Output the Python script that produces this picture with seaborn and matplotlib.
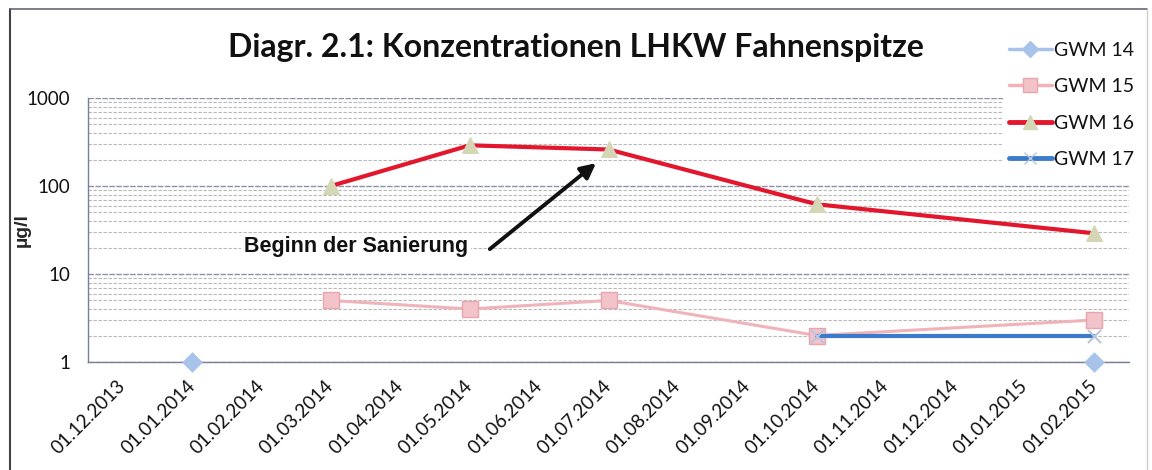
import numpy as np
import pandas as pd
import matplotlib
matplotlib.use("Agg")
import matplotlib.pyplot as plt
from matplotlib.lines import Line2D
from matplotlib.ticker import LogLocator, FixedLocator, NullFormatter, FixedFormatter
import seaborn as sns

# ---------------- data ----------------
months = ["01.12.2013", "01.01.2014", "01.02.2014", "01.03.2014", "01.04.2014",
          "01.05.2014", "01.06.2014", "01.07.2014", "01.08.2014", "01.09.2014",
          "01.10.2014", "01.11.2014", "01.12.2014", "01.01.2015", "01.02.2015"]

gwm14_dates = ["01.01.2014", "01.02.2015"]
gwm14_vals = [1, 1]

gwm15_dates = ["01.03.2014", "01.05.2014", "01.07.2014", "01.10.2014", "01.02.2015"]
gwm15_vals = [5, 4, 5, 2, 3]

gwm16_dates = ["01.03.2014", "01.05.2014", "01.07.2014", "01.10.2014", "01.02.2015"]
gwm16_vals = [100, 290, 260, 62, 29]

gwm17_dates = ["01.10.2014", "01.02.2015"]
gwm17_vals = [2, 2]

series_names = ["GWM 14", "GWM 15", "GWM 16", "GWM 17"]
y_ticks = [1, 10, 100, 1000]
y_labels = ["1", "10", "100", "1000"]

title = "Diagr. 2.1: Konzentrationen LHKW Fahnenspitze"
annot_text = "Beginn der Sanierung"

# ---------------- styling ----------------
sns.set_style("white")
plt.rcParams["font.family"] = ["Lato", "DejaVu Sans"]
plt.rcParams["text.color"] = "#111111"
plt.rcParams["xtick.color"] = "#111111"
plt.rcParams["ytick.color"] = "#111111"

pos = {m: i for i, m in enumerate(months)}


def frame(dates, vals):
    return pd.DataFrame({"x": [pos[d] for d in dates], "y": vals})


fig = plt.figure(figsize=(11.52, 4.70), dpi=100)
ax = fig.add_axes([88 / 1152, 1 - 362 / 470, (1129 - 88) / 1152, (362 - 98) / 470])

c14 = "#a8c3ea"
c15 = "#f0b3ba"
c16 = "#e2172d"
c16m = "#d5d6b5"
c17 = "#3b7bcc"
c17m = "#b9c6de"

# grid lines
ax.set_yscale("log")
ax.set_ylim(1, 1000)
ax.set_xlim(-0.5, len(months) - 0.5)
ax.yaxis.set_major_locator(FixedLocator(y_ticks))
ax.yaxis.set_major_formatter(FixedFormatter(y_labels))
ax.yaxis.set_minor_locator(LogLocator(base=10, subs=np.arange(2, 10)))
ax.yaxis.set_minor_formatter(NullFormatter())
ax.grid(False)
ax.grid(True, which="major", axis="y", color="#8a90ad", linestyle=(0, (4, 1)), lw=1.0, zorder=0)
ax.grid(True, which="minor", axis="y", color="#b8b8b8", linestyle=(0, (3, 1.5)), lw=0.8, zorder=0)
ax.set_axisbelow(True)

# series
d14 = frame(gwm14_dates, gwm14_vals)
d15 = frame(gwm15_dates, gwm15_vals)
d16 = frame(gwm16_dates, gwm16_vals)
d17 = frame(gwm17_dates, gwm17_vals)

sns.scatterplot(data=d14, x="x", y="y", ax=ax, marker="D", s=100, color=c14,
                edgecolor=c14, linewidth=0.5, zorder=5, legend=False, clip_on=False)
sns.lineplot(data=d15, x="x", y="y", ax=ax, color=c15, lw=2.2, marker="s",
             markersize=11, markerfacecolor="#f2c3c8", markeredgecolor="#e8a5ad",
             markeredgewidth=1, zorder=3, legend=False)
sns.lineplot(data=d16, x="x", y="y", ax=ax, color=c16, lw=3, marker="^",
             markersize=11, markerfacecolor=c16m, markeredgecolor=c16m, zorder=4, legend=False)
sns.lineplot(data=d17, x="x", y="y", ax=ax, color=c17, lw=3, zorder=4, legend=False)
sns.scatterplot(data=d17, x="x", y="y", ax=ax, marker="x", s=90, color=c17m,
                linewidth=1.5, zorder=5, legend=False)

ax.set_xlabel("")
ax.set_ylabel("µg/l", fontsize=14, fontweight="bold", family=["Liberation Sans", "DejaVu Sans"])
ax.yaxis.set_label_coords(-0.055, 0.5)

# x axis: labels at categories, ticks at boundaries
ax.set_xticks(range(len(months)))
ax.set_xticklabels(months, rotation=45, ha="right", va="center", rotation_mode="anchor",
                   fontsize=13.5)
ax.set_xticks(np.arange(-0.5, len(months), 1.0), minor=True)
ax.tick_params(axis="x", which="major", length=0, pad=15)
ax.tick_params(axis="x", which="minor", length=5, color="#555555", direction="out", width=0.8)
ax.tick_params(axis="y", which="major", length=6, direction="inout", color="#555555",
               labelsize=13.5, pad=10)
ax.tick_params(axis="y", which="minor", length=4, direction="inout", color="#777777")

for s in ["top", "right"]:
    ax.spines[s].set_visible(False)
for s in ["left", "bottom"]:
    ax.spines[s].set_color("#7a7f99")
    ax.spines[s].set_linewidth(1.0)

# annotation
ax.text(3.36, 20.3, annot_text, ha="center", va="center", fontsize=15.5, fontweight="bold",
        family=["Liberation Sans", "DejaVu Sans"], color="#111111",
        bbox=dict(facecolor="white", edgecolor="none", pad=2), zorder=6)
ax.annotate("", xy=(6.82, 182), xytext=(5.29, 19.2),
            arrowprops=dict(arrowstyle="-|>,head_length=0.9,head_width=0.45", color="#111111",
                            lw=2.8, shrinkA=0, shrinkB=0), zorder=6)

# title
fig.text(0.5, 1 - 47 / 470, title, ha="center", va="center", fontsize=23, fontweight="bold",
         color="#111111")

# legend
handles = [
    Line2D([], [], color=c14, lw=2.5, marker="D", markersize=8, markerfacecolor=c14, markeredgecolor=c14),
    Line2D([], [], color=c15, lw=2.5, marker="s", markersize=10, markerfacecolor="#f2c3c8", markeredgecolor="#e8a5ad"),
    Line2D([], [], color=c16, lw=3.5, marker="^", markersize=10, markerfacecolor=c16m, markeredgecolor=c16m),
    Line2D([], [], color=c17, lw=3.5, marker="x", markersize=8, markeredgecolor=c17m),
]
leg = fig.legend(handles, series_names, loc="upper left",
                 bbox_to_anchor=(1003 / 1152, 1 - 36 / 470), frameon=True, fontsize=14,
                 handlelength=2.2, handletextpad=0.1, labelspacing=1.0, borderpad=0.3,
                 borderaxespad=0)
leg.get_frame().set_facecolor("white")
leg.get_frame().set_edgecolor("none")
leg.get_frame().set_alpha(1)

# outer chart frame
fig.add_artist(Line2D([10 / 1152, 10 / 1152], [0, 1 - 9 / 470], transform=fig.transFigure,
                      color="#444444", lw=1.5))
fig.add_artist(Line2D([10 / 1152, 1147 / 1152], [1 - 9 / 470, 1 - 9 / 470], transform=fig.transFigure,
                      color="#666677", lw=1.2))
fig.add_artist(Line2D([1147 / 1152, 1147 / 1152], [0, 1 - 9 / 470], transform=fig.transFigure,
                      color="#cccccc", lw=1.0))

fig.savefig("out.png", dpi=100, facecolor="white")
